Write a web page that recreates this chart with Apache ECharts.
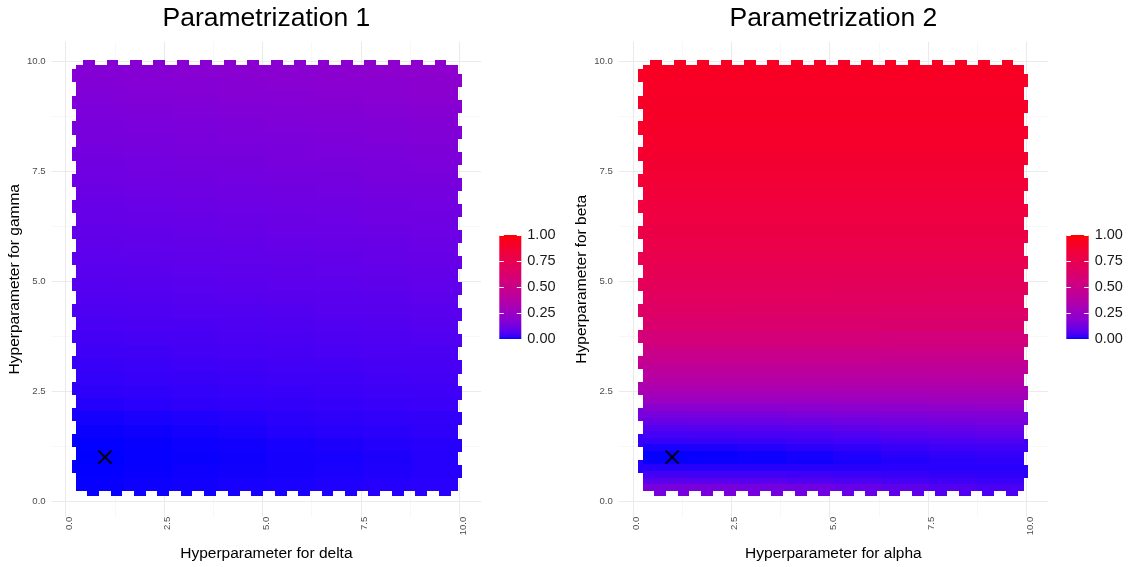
<!DOCTYPE html>
<html>
<head>
<meta charset="utf-8">
<script src="https://cdn.jsdelivr.net/npm/echarts@6/dist/echarts.min.js"></script>
<style>
html,body{margin:0;padding:0;background:#fff;}
#chart{width:1136px;height:567px;}
</style>
</head>
<body>
<div id="chart"></div>
<script>
// ---------------- DATA ----------------
const titles = ['Parametrization 1', 'Parametrization 2'];
const xTitles = ['Hyperparameter for delta', 'Hyperparameter for alpha'];
const yTitles = ['Hyperparameter for gamma', 'Hyperparameter for beta'];
const majorTicks = [0, 2.5, 5, 7.5, 10];
const minorTicks = [1.25, 3.75, 6.25, 8.75];
const legendTicks = [0, 0.25, 0.5, 0.75, 1];
const markerPoint = [[1, 1]];

// Panel 1 tiles: row edges (bottom -> top), column edges (left -> right)
const p1RowEdges = [0.23, 0.53, 0.84, 1.14, 1.44, 1.74, 2.05, 2.35, 2.65, 2.96, 3.26, 3.56, 3.87, 4.17, 4.47, 4.77,
                    5.08, 5.38, 5.68, 5.99, 6.29, 6.59, 6.90, 7.20, 7.50, 7.80, 8.11, 8.41, 8.71, 9.02, 9.32, 9.62, 9.93];
const p1ColEdges = [0.26, 1.47, 2.69, 3.90, 5.12, 6.33, 7.54, 8.76, 9.97];
const p1Values = [
  [0.003, 0.005, 0.007, 0.009, 0.010, 0.012, 0.014, 0.016],
  [0.001, 0.003, 0.005, 0.007, 0.008, 0.010, 0.012, 0.014],
  [0.000, 0.002, 0.004, 0.006, 0.008, 0.009, 0.011, 0.014],
  [0.001, 0.003, 0.005, 0.007, 0.009, 0.011, 0.013, 0.015],
  [0.004, 0.006, 0.008, 0.010, 0.013, 0.015, 0.017, 0.019],
  [0.008, 0.010, 0.012, 0.014, 0.017, 0.019, 0.021, 0.023],
  [0.014, 0.016, 0.019, 0.021, 0.023, 0.025, 0.028, 0.030],
  [0.019, 0.021, 0.024, 0.026, 0.028, 0.030, 0.033, 0.035],
  [0.024, 0.026, 0.029, 0.031, 0.033, 0.035, 0.038, 0.040],
  [0.029, 0.031, 0.034, 0.036, 0.039, 0.041, 0.044, 0.046],
  [0.035, 0.037, 0.040, 0.042, 0.045, 0.047, 0.050, 0.052],
  [0.041, 0.044, 0.046, 0.049, 0.051, 0.054, 0.056, 0.059],
  [0.047, 0.050, 0.052, 0.055, 0.057, 0.060, 0.062, 0.065],
  [0.053, 0.056, 0.059, 0.061, 0.064, 0.066, 0.069, 0.072],
  [0.059, 0.062, 0.065, 0.067, 0.070, 0.072, 0.075, 0.078],
  [0.065, 0.068, 0.071, 0.074, 0.076, 0.079, 0.082, 0.085],
  [0.071, 0.074, 0.077, 0.080, 0.082, 0.085, 0.088, 0.091],
  [0.077, 0.080, 0.083, 0.086, 0.089, 0.092, 0.095, 0.098],
  [0.083, 0.086, 0.089, 0.092, 0.095, 0.098, 0.101, 0.104],
  [0.089, 0.092, 0.095, 0.098, 0.102, 0.105, 0.108, 0.111],
  [0.095, 0.098, 0.101, 0.104, 0.108, 0.111, 0.114, 0.117],
  [0.101, 0.104, 0.108, 0.111, 0.114, 0.117, 0.121, 0.124],
  [0.108, 0.111, 0.115, 0.118, 0.121, 0.124, 0.128, 0.131],
  [0.115, 0.118, 0.122, 0.125, 0.129, 0.132, 0.136, 0.139],
  [0.122, 0.125, 0.129, 0.132, 0.136, 0.139, 0.143, 0.146],
  [0.129, 0.133, 0.136, 0.140, 0.143, 0.147, 0.150, 0.154],
  [0.136, 0.140, 0.143, 0.147, 0.150, 0.154, 0.157, 0.161],
  [0.143, 0.147, 0.151, 0.154, 0.158, 0.161, 0.165, 0.169],
  [0.151, 0.155, 0.159, 0.162, 0.166, 0.169, 0.173, 0.177],
  [0.159, 0.163, 0.167, 0.171, 0.174, 0.178, 0.182, 0.186],
  [0.167, 0.171, 0.175, 0.179, 0.182, 0.186, 0.190, 0.194],
  [0.175, 0.179, 0.183, 0.187, 0.191, 0.195, 0.199, 0.203]
];

// Panel 2 tiles (finer rows near the low band)
const p2RowEdges = [0.23, 0.38, 0.53, 0.68, 0.84, 0.99, 1.14, 1.29, 1.44, 1.59, 1.74, 1.90, 2.05, 2.20, 2.35, 2.50,
                    2.65, 2.81, 2.96, 3.11, 3.26, 3.41, 3.56, 3.87, 4.17, 4.47, 4.77, 5.08, 5.38, 5.68, 5.99, 6.29,
                    6.59, 6.90, 7.20, 7.50, 7.80, 8.11, 8.41, 8.71, 9.02, 9.32, 9.62, 9.93];
const p2ColEdges = [0.25, 1.46, 2.67, 3.89, 5.10, 6.31, 7.52, 8.73, 9.94];
const p2Values = [
  [0.140, 0.136, 0.129, 0.118, 0.100, 0.082, 0.064, 0.050],
  [0.075, 0.073, 0.070, 0.064, 0.055, 0.046, 0.037, 0.030],
  [0.040, 0.039, 0.038, 0.035, 0.031, 0.027, 0.023, 0.020],
  [0.015, 0.015, 0.015, 0.015, 0.015, 0.016, 0.016, 0.016],
  [0.003, 0.004, 0.005, 0.007, 0.010, 0.013, 0.016, 0.018],
  [0.002, 0.003, 0.005, 0.008, 0.012, 0.017, 0.022, 0.025],
  [0.010, 0.011, 0.013, 0.017, 0.022, 0.028, 0.033, 0.037],
  [0.025, 0.027, 0.029, 0.033, 0.039, 0.045, 0.051, 0.055],
  [0.042, 0.044, 0.047, 0.052, 0.059, 0.067, 0.074, 0.080],
  [0.065, 0.067, 0.070, 0.075, 0.083, 0.091, 0.099, 0.105],
  [0.100, 0.102, 0.104, 0.109, 0.116, 0.123, 0.130, 0.135],
  [0.140, 0.142, 0.144, 0.148, 0.154, 0.160, 0.166, 0.170],
  [0.195, 0.196, 0.197, 0.200, 0.204, 0.208, 0.212, 0.215],
  [0.245, 0.246, 0.247, 0.249, 0.252, 0.255, 0.258, 0.260],
  [0.290, 0.291, 0.291, 0.293, 0.295, 0.297, 0.299, 0.300],
  [0.330, 0.330, 0.331, 0.331, 0.332, 0.333, 0.334, 0.335],
  [0.365, 0.365, 0.366, 0.366, 0.367, 0.368, 0.369, 0.370],
  [0.400, 0.400, 0.400, 0.400, 0.400, 0.400, 0.400, 0.400],
  [0.435, 0.435, 0.435, 0.434, 0.434, 0.433, 0.432, 0.432],
  [0.465, 0.465, 0.465, 0.464, 0.464, 0.463, 0.462, 0.462],
  [0.495, 0.495, 0.495, 0.494, 0.494, 0.493, 0.492, 0.492],
  [0.525, 0.525, 0.525, 0.524, 0.523, 0.522, 0.521, 0.521],
  [0.565, 0.565, 0.564, 0.564, 0.563, 0.562, 0.561, 0.560],
  [0.620, 0.620, 0.619, 0.619, 0.618, 0.617, 0.616, 0.615],
  [0.655, 0.655, 0.654, 0.654, 0.653, 0.652, 0.651, 0.650],
  [0.685, 0.685, 0.684, 0.684, 0.683, 0.682, 0.681, 0.680],
  [0.710, 0.710, 0.709, 0.709, 0.708, 0.707, 0.706, 0.705],
  [0.735, 0.735, 0.735, 0.735, 0.735, 0.735, 0.735, 0.735],
  [0.755, 0.755, 0.755, 0.755, 0.755, 0.755, 0.755, 0.755],
  [0.775, 0.775, 0.775, 0.775, 0.775, 0.775, 0.775, 0.775],
  [0.795, 0.795, 0.795, 0.795, 0.795, 0.795, 0.795, 0.795],
  [0.810, 0.810, 0.810, 0.810, 0.810, 0.810, 0.810, 0.810],
  [0.825, 0.825, 0.825, 0.825, 0.825, 0.825, 0.825, 0.825],
  [0.840, 0.840, 0.840, 0.840, 0.840, 0.840, 0.840, 0.840],
  [0.855, 0.855, 0.855, 0.855, 0.855, 0.855, 0.855, 0.855],
  [0.870, 0.870, 0.870, 0.870, 0.870, 0.870, 0.870, 0.870],
  [0.885, 0.885, 0.885, 0.885, 0.885, 0.885, 0.885, 0.885],
  [0.895, 0.895, 0.895, 0.895, 0.895, 0.895, 0.895, 0.895],
  [0.900, 0.900, 0.900, 0.900, 0.900, 0.900, 0.900, 0.900],
  [0.905, 0.905, 0.905, 0.905, 0.905, 0.905, 0.905, 0.905],
  [0.910, 0.910, 0.910, 0.910, 0.910, 0.910, 0.910, 0.910],
  [0.915, 0.915, 0.915, 0.915, 0.915, 0.915, 0.915, 0.915],
  [0.920, 0.920, 0.920, 0.920, 0.920, 0.920, 0.920, 0.920]
];

// Edge tiles that stick out of the body (centres, data units), shared by both panels
const topTileX    = [0.60, 1.19, 1.79, 2.38, 2.98, 3.57, 4.17, 4.76, 5.36, 5.95, 6.55, 7.14, 7.74, 8.33, 8.93, 9.52];
const bottomTileX = [0.69, 1.29, 1.88, 2.48, 3.07, 3.67, 4.27, 4.86, 5.46, 6.05, 6.65, 7.25, 7.84, 8.44, 9.03, 9.63];
const leftTileY   = [0.78, 1.37, 1.97, 2.56, 3.15, 3.75, 4.34, 4.93, 5.52, 6.12, 6.71, 7.30, 7.90, 8.49, 9.08, 9.68];
const rightTileY  = [0.68, 1.27, 1.87, 2.46, 3.05, 3.65, 4.24, 4.83, 5.42, 6.02, 6.61, 7.20, 7.80, 8.39, 8.98, 9.58];
const tileHalf = 0.15;
const tileDepth = 0.11;

// ---------------- COLOUR SCALE (blue -> red, CIE Lab) ----------------
function toLin(c){c/=255;return c<=0.04045?c/12.92:Math.pow((c+0.055)/1.055,2.4);}
function toSrgb(c){c=Math.max(0,Math.min(1,c));return Math.round(255*(c<=0.0031308?12.92*c:1.055*Math.pow(c,1/2.4)-0.055));}
const Xn=0.95047,Yn=1,Zn=1.08883;
function fl(t){return t>216/24389?Math.cbrt(t):(24389/27*t+16)/116;}
function finv(t){const t3=t*t*t;return t3>216/24389?t3:(116*t-16)/(24389/27);}
function rgbToLab(rgb){const [r,g,b]=rgb.map(toLin);
  const X=0.4124*r+0.3576*g+0.1805*b, Y=0.2126*r+0.7152*g+0.0722*b, Z=0.0193*r+0.1192*g+0.9505*b;
  const fx=fl(X/Xn),fy=fl(Y/Yn),fz=fl(Z/Zn);return [116*fy-16,500*(fx-fy),200*(fy-fz)];}
function labToHex(lab){const fy=(lab[0]+16)/116,fx=fy+lab[1]/500,fz=fy-lab[2]/200;
  const X=Xn*finv(fx),Y=Yn*finv(fy),Z=Zn*finv(fz);
  const r=3.2406*X-1.5372*Y-0.4986*Z,g=-0.9689*X+1.8758*Y+0.0415*Z,b=0.0557*X-0.2040*Y+1.0570*Z;
  return '#'+[r,g,b].map(c=>toSrgb(c).toString(16).padStart(2,'0')).join('');}
const lowLab = rgbToLab([0,0,255]), highLab = rgbToLab([255,0,0]);
const NSTOP = 60;
const palette = [];
for (let i=0;i<=NSTOP;i++){const t=i/NSTOP;palette.push(labToHex(lowLab.map((v,k)=>v+(highLab[k]-v)*t)));}

// ---------------- BUILD TILES ----------------
function idx(edges, v){for(let i=0;i<edges.length-1;i++){if(v>=edges[i]&&v<edges[i+1])return i;}return v<edges[0]?0:edges.length-2;}
function buildTiles(xE, yE, vals){
  const out=[];
  for(let j=0;j<yE.length-1;j++)for(let i=0;i<xE.length-1;i++)out.push([xE[i],xE[i+1],yE[j],yE[j+1],vals[j][i]]);
  const nR=yE.length-1, nC=xE.length-1, xL=xE[0], xR=xE[nC], yB=yE[0], yT=yE[nR];
  topTileX.forEach(c=>out.push([c-tileHalf,c+tileHalf,yT,yT+tileDepth,vals[nR-1][idx(xE,c)]]));
  bottomTileX.forEach(c=>out.push([c-tileHalf,c+tileHalf,yB-tileDepth,yB,vals[0][idx(xE,c)]]));
  leftTileY.forEach(c=>out.push([xL-tileDepth,xL,c-tileHalf,c+tileHalf,vals[idx(yE,c)][0]]));
  rightTileY.forEach(c=>out.push([xR,xR+tileDepth,c-tileHalf,c+tileHalf,vals[idx(yE,c)][nC-1]]));
  return out;
}
const tiles1 = buildTiles(p1ColEdges, p1RowEdges, p1Values);
const tiles2 = buildTiles(p2ColEdges, p2RowEdges, p2Values);

// ---------------- CHART ----------------
const FONT = 'Liberation Sans, Arial, Helvetica, sans-serif';
const chart = echarts.init(document.getElementById('chart'), null, {renderer:'canvas'});

const panels = [
  {left: 51.7, width: 429.3, titleX: 266.4},
  {left: 618.8, width: 429.2, titleX: 833.4}
];
const legends = [
  {left: 499.3, width: 22},
  {left: 1066.3, width: 22.4}
];
const gridTop = 41.7, gridH = 475;
const XMIN = -0.355, XMAX = 10.55, YMIN = -0.357, YMAX = 10.455;

const grids = [];
panels.forEach(p=>grids.push({left:p.left, top:gridTop, width:p.width, height:gridH, containLabel:false}));
legends.forEach(l=>grids.push({left:l.left, top:235, width:l.width, height:104, containLabel:false}));

const majorLine = {color:'#EBEBEB', width:1.1};
const minorLine = {color:'#F3F3F3', width:0.6};

const xAxes = [], yAxes = [];
[0,1].forEach(i=>{
  xAxes.push({
    type:'value', gridIndex:i, min:XMIN, max:XMAX, position:'bottom',
    name:xTitles[i], nameLocation:'middle', nameGap:29,
    nameTextStyle:{fontSize:15.5, color:'#000', fontFamily:FONT},
    axisLine:{show:false},
    axisTick:{show:false, customValues:majorTicks},
    axisLabel:{rotate:90, fontSize:9.6, color:'#4D4D4D', fontFamily:FONT, margin:0, verticalAlign:'top', lineHeight:7,
               customValues:majorTicks, formatter:v=>v.toFixed(1)},
    splitLine:{show:true, lineStyle:majorLine}
  });
  xAxes.push({
    type:'value', gridIndex:i, min:XMIN, max:XMAX, position:'top', z:-1,
    axisLine:{show:false}, axisLabel:{show:false},
    axisTick:{show:false, customValues:minorTicks},
    splitLine:{show:true, lineStyle:minorLine}
  });
});
[0,1].forEach(i=>{
  yAxes.push({
    type:'value', gridIndex:i, min:YMIN, max:YMAX, position:'left',
    name:yTitles[i], nameLocation:'middle', nameGap:29,
    nameTextStyle:{fontSize:15.5, color:'#000', fontFamily:FONT},
    axisLine:{show:false},
    axisTick:{show:false, customValues:majorTicks},
    axisLabel:{fontSize:9.6, color:'#4D4D4D', fontFamily:FONT, margin:6, customValues:majorTicks, formatter:v=>v.toFixed(1)},
    splitLine:{show:true, lineStyle:majorLine}
  });
  yAxes.push({
    type:'value', gridIndex:i, min:YMIN, max:YMAX, position:'right', z:-1,
    axisLine:{show:false}, axisLabel:{show:false},
    axisTick:{show:false, customValues:minorTicks},
    splitLine:{show:true, lineStyle:minorLine}
  });
});
// legend (colour bar) axes: x index 4,5 ; y index 4..7
[2,3].forEach(g=>{
  xAxes.push({type:'value', gridIndex:g, min:0, max:1, show:false});
  yAxes.push({type:'value', gridIndex:g, min:0, max:1, interval:0.25, position:'left', z:10,
    axisLine:{show:false}, splitLine:{show:false}, axisLabel:{show:false},
    axisTick:{show:true, inside:true, length:4.5, lineStyle:{color:'#fff', width:1}}});
  yAxes.push({type:'value', gridIndex:g, min:0, max:1, interval:0.25, position:'right', z:10,
    axisLine:{show:false}, splitLine:{show:false},
    axisLabel:{show:true, fontSize:14.5, color:'#1A1A1A', fontFamily:FONT, margin:6, formatter:v=>v.toFixed(2)},
    axisTick:{show:true, inside:true, length:4.5, lineStyle:{color:'#fff', width:1}}});
});

function tileRender(params, api){
  const a = api.coord([api.value(0), api.value(3)]);
  const b = api.coord([api.value(1), api.value(2)]);
  const x0 = Math.round(a[0]), y0 = Math.round(a[1]), x1 = Math.round(b[0]), y1 = Math.round(b[1]);
  return {type:'rect', shape:{x:x0, y:y0, width:x1-x0, height:y1-y0},
          style:{fill:api.visual('color')}};
}
function markerRender(params, api){
  const p = api.coord([api.value(0), api.value(1)]);
  const h = 6.5;
  return {type:'group', children:[
    {type:'line', shape:{x1:p[0]-h,y1:p[1]-h,x2:p[0]+h,y2:p[1]+h}, style:{stroke:'#000', lineWidth:2}},
    {type:'line', shape:{x1:p[0]-h,y1:p[1]+h,x2:p[0]+h,y2:p[1]-h}, style:{stroke:'#000', lineWidth:2}}
  ]};
}
function barRender(params, api){
  const cs = params.coordSys;
  const stops = palette.map((col,i)=>({offset:1 - i/NSTOP, color:col})).reverse();
  return {type:'rect', shape:{x:cs.x, y:cs.y, width:cs.width, height:cs.height},
          style:{fill:new echarts.graphic.LinearGradient(0,0,0,1,stops)}};
}

const legendData = [[0, legendTicks[0], legendTicks[legendTicks.length-1]]];
const series = [
  {type:'custom', xAxisIndex:0, yAxisIndex:0, data:tiles1, renderItem:tileRender, encode:{x:[0,1], y:[2,3]}, silent:true, z:2},
  {type:'custom', xAxisIndex:2, yAxisIndex:2, data:tiles2, renderItem:tileRender, encode:{x:[0,1], y:[2,3]}, silent:true, z:2},
  {type:'custom', xAxisIndex:0, yAxisIndex:0, data:markerPoint, renderItem:markerRender, silent:true, z:5},
  {type:'custom', xAxisIndex:2, yAxisIndex:2, data:markerPoint, renderItem:markerRender, silent:true, z:5},
  {type:'custom', xAxisIndex:4, yAxisIndex:4, data:legendData, renderItem:barRender, silent:true, z:2},
  {type:'custom', xAxisIndex:5, yAxisIndex:6, data:legendData, renderItem:barRender, silent:true, z:2}
];

const option = {
  animation:false,
  backgroundColor:'#fff',
  textStyle:{fontFamily:FONT},
  grid:grids,
  xAxis:xAxes,
  yAxis:yAxes,
  visualMap:[{type:'continuous', show:false, min:0, max:1, dimension:4, seriesIndex:[0,1], inRange:{color:palette}}],
  graphic:panels.map((p,i)=>({type:'text', x:p.titleX, y:5, style:{text:titles[i], font:'26.5px '+FONT, fill:'#000', align:'center', verticalAlign:'top'}})),
  series:series
};
chart.setOption(option);
</script>
</body>
</html>
